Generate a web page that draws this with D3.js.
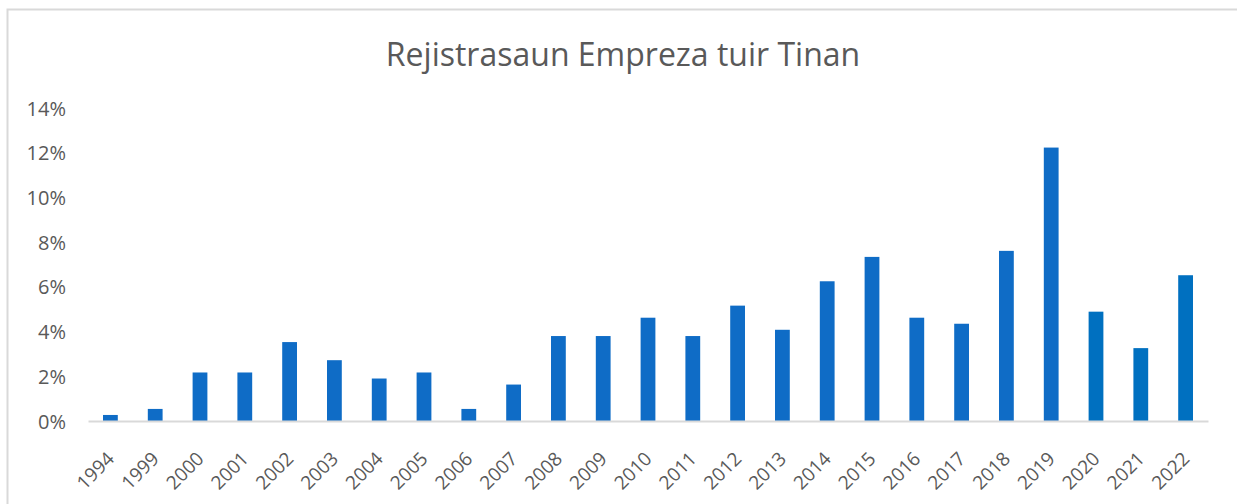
<!DOCTYPE html>
<html lang="en">
<head>
    <meta charset="UTF-8">
    <title>Rejistrasaun Empreza tuir Tinan</title>
    <script src="https://d3js.org/d3.v7.min.js"></script>
    <style>
        body { margin: 0; background: #fff; }
        .axis-y text, .axis-x text {
            font-family: "Open Sans", sans-serif;
            fill: #595959;
        }
        .axis-y text { font-size: 20px; }
        .axis-x text { font-size: 19px; }
    </style>
</head>
<body>
    <div id="chart"></div>
    <script>
        // Data
        const years = ["1994", "1999", "2000", "2001", "2002", "2003", "2004", "2005", "2006", "2007",
            "2008", "2009", "2010", "2011", "2012", "2013", "2014", "2015", "2016", "2017",
            "2018", "2019", "2020", "2021", "2022"];
        const shares = [0.0027, 0.0054, 0.0217, 0.0217, 0.0353, 0.0272, 0.0190, 0.0217, 0.0054, 0.0163,
            0.0380, 0.0380, 0.0462, 0.0380, 0.0516, 0.0408, 0.0625, 0.0734, 0.0462, 0.0435,
            0.0761, 0.1223, 0.0489, 0.0326, 0.0652];
        const yTicks = [0, 0.02, 0.04, 0.06, 0.08, 0.10, 0.12, 0.14];
        const title = "Rejistrasaun Empreza tuir Tinan";

        const W = 1237, H = 504;
        const plot = { left: 88, right: 1208, top: 108, bottom: 421 };

        const svg = d3.select("#chart")
            .append("svg")
            .attr("width", W)
            .attr("height", H);

        // chart frame
        svg.append("rect")
            .attr("x", 7.5).attr("y", 9.5)
            .attr("width", W + 20).attr("height", H + 20)
            .attr("fill", "none")
            .attr("stroke", "#d9d9d9")
            .attr("stroke-width", 2);

        svg.append("text")
            .attr("x", 623)
            .attr("y", 66)
            .attr("text-anchor", "middle")
            .style("font-family", "'Open Sans', sans-serif")
            .style("font-size", "32px")
            .style("fill", "#595959")
            .text(title);

        const x = d3.scaleBand()
            .domain(years)
            .range([plot.left, plot.right])
            .paddingInner(0.67)
            .paddingOuter(0.335);

        const y = d3.scaleLinear()
            .domain([0, 0.14])
            .range([plot.bottom, plot.top]);

        // y axis labels only, no line
        const yAxis = svg.append("g")
            .attr("class", "axis-y")
            .attr("transform", "translate(" + plot.left + ",0)")
            .call(d3.axisLeft(y).tickValues(yTicks).tickFormat(d3.format(".0%")).tickSize(0).tickPadding(22));
        yAxis.select(".domain").remove();
        yAxis.selectAll("text").attr("dy", "0.35em");

        svg.selectAll(".bar")
            .data(years.map((yr, i) => ({ yr, v: shares[i] })))
            .enter()
            .append("rect")
            .attr("class", "bar")
            .attr("x", d => x(d.yr))
            .attr("width", x.bandwidth())
            .attr("y", d => y(d.v))
            .attr("height", d => y(0) - y(d.v))
            .attr("fill", d => +d.yr >= 2020 ? "#0070c0" : "#0f6cc6");

        // x axis
        const xAxis = svg.append("g")
            .attr("class", "axis-x")
            .attr("transform", "translate(0," + plot.bottom + ")")
            .call(d3.axisBottom(x).tickSize(0).tickPadding(0));
        xAxis.select(".domain")
            .attr("stroke", "#d9d9d9")
            .attr("stroke-width", 2);
        xAxis.selectAll("text")
            .style("text-anchor", "end")
            .attr("dy", "0")
            .attr("transform", "translate(5,39) rotate(-45)");
    </script>
</body>
</html>
